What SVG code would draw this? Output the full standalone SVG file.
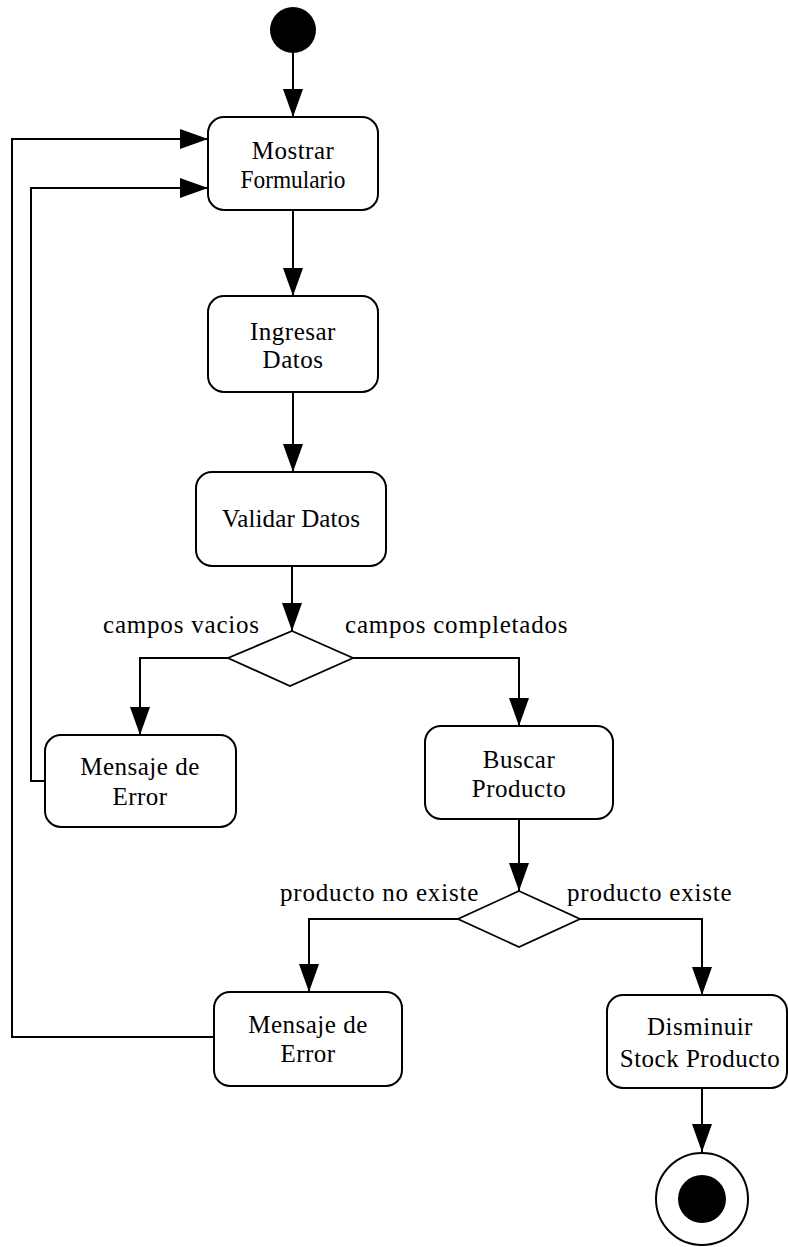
<svg xmlns="http://www.w3.org/2000/svg" width="788" height="1247" viewBox="0 0 788 1247">
<style>
.box{fill:#fff;stroke:#000;stroke-width:2}
.dia{fill:#fff;stroke:#000;stroke-width:1.8}
.t{font-family:"Liberation Serif","Times New Roman",serif;font-size:25px;fill:#000;text-anchor:middle;letter-spacing:0.5px}
.lbl{font-family:"Liberation Serif","Times New Roman",serif;font-size:25px;fill:#000;letter-spacing:0.8px}
.c{fill:none;stroke:#000;stroke-width:2}
</style>
<defs>
<marker id="ah" markerUnits="userSpaceOnUse" markerWidth="28" markerHeight="20" refX="28" refY="10" orient="auto">
<path d="M0,0 L28,10 L0,20 z" fill="#000"/>
</marker>
</defs>
<g id="connectors">
<path class="c" d="M293,53 V117" marker-end="url(#ah)"/>
<path class="c" d="M293,210 V296" marker-end="url(#ah)"/>
<path class="c" d="M293,392 V472" marker-end="url(#ah)"/>
<path class="c" d="M292,566 V631" marker-end="url(#ah)"/>
<path class="c" d="M228,658 H140 V735" marker-end="url(#ah)"/>
<path class="c" d="M353,658 H519 V726" marker-end="url(#ah)"/>
<path class="c" d="M45,781 H31 V188 H208" marker-end="url(#ah)"/>
<path class="c" d="M519,819 V891" marker-end="url(#ah)"/>
<path class="c" d="M458,919 H309 V992" marker-end="url(#ah)"/>
<path class="c" d="M580,919 H702 V995" marker-end="url(#ah)"/>
<path class="c" d="M214,1037 H12 V139 H208" marker-end="url(#ah)"/>
<path class="c" d="M702,1088 V1152" marker-end="url(#ah)"/>
<text class="lbl" x="103" y="633">campos vacios</text>
<text class="lbl" x="345" y="633">campos completados</text>
<text class="lbl" x="280" y="901">producto no existe</text>
<text class="lbl" x="567" y="901">producto existe</text>
</g>
<g id="start"><circle cx="293" cy="30" r="23" fill="#000"/></g>
<g id="mostrar">
<rect class="box" x="208" y="117" width="170" height="93" rx="16"/>
<text class="t" x="293" y="159">Mostrar</text>
<text class="t" x="293" y="188" style="letter-spacing:0" textLength="105" lengthAdjust="spacingAndGlyphs">Formulario</text>
</g>
<g id="ingresar">
<rect class="box" x="208" y="296" width="170" height="96" rx="16"/>
<text class="t" x="293" y="340">Ingresar</text>
<text class="t" x="293" y="368">Datos</text>
</g>
<g id="validar">
<rect class="box" x="196" y="472" width="190" height="94" rx="16"/>
<text class="t" x="291" y="527" style="letter-spacing:0.1px">Validar Datos</text>
</g>
<g id="decision1">
<polygon class="dia" points="292,631 353,658 290,686 228,658"/>
</g>
<g id="error1">
<rect class="box" x="45" y="735" width="191" height="92" rx="16"/>
<text class="t" x="140" y="775">Mensaje de</text>
<text class="t" x="140" y="805">Error</text>
</g>
<g id="buscar">
<rect class="box" x="425" y="726" width="188" height="93" rx="16"/>
<text class="t" x="519" y="768">Buscar</text>
<text class="t" x="519" y="797">Producto</text>
</g>
<g id="decision2">
<polygon class="dia" points="519,891 580,919 519,947 458,919"/>
</g>
<g id="error2">
<rect class="box" x="214" y="992" width="188" height="94" rx="16"/>
<text class="t" x="308" y="1033">Mensaje de</text>
<text class="t" x="308" y="1062">Error</text>
</g>
<g id="disminuir">
<rect class="box" x="607" y="995" width="180" height="93" rx="16"/>
<text class="t" x="700" y="1035">Disminuir</text>
<text class="t" x="700" y="1067">Stock Producto</text>
</g>
<g id="end">
<circle cx="702" cy="1199" r="46" fill="#fff" stroke="#000" stroke-width="2"/>
<circle cx="702" cy="1199" r="24" fill="#000"/>
</g>
</svg>
